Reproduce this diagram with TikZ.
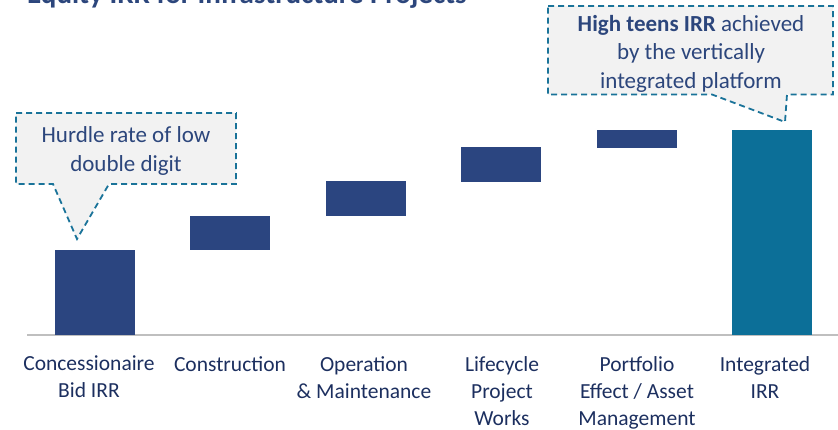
\documentclass[tikz,border=0pt]{standalone}
\usepackage{fontspec}
\setmainfont{Carlito}
\definecolor{navybar}{HTML}{2B4580}
\definecolor{tealbar}{HTML}{0C6F98}
\definecolor{txtblue}{HTML}{2C467C}
\definecolor{lblblue}{HTML}{1C2F5F}
\definecolor{calloutedge}{HTML}{1A7399}
\definecolor{calloutfill}{HTML}{F2F2F2}
\definecolor{axisgray}{HTML}{BFBFBF}
\tikzset{
  barbox/.style={draw=none, inner sep=0pt, minimum width=80pt, anchor=south west},
  lbl/.style={text=lblblue, align=center, anchor=north, inner sep=0pt,
    font=\fontsize{21.5}{27}\selectfont},
  callout/.style={fill=calloutfill, draw=calloutedge, line width=1.8pt,
    dash pattern=on 6pt off 4pt, line join=miter},
  callouttext/.style={text=txtblue, align=center, inner sep=0pt,
    font=\fontsize{23}{28.5}\selectfont},
}
\begin{document}
\begin{tikzpicture}[x=1pt,y=-1pt]
\useasboundingbox (0,0) rectangle (838,429);
\clip (0,0) rectangle (838,429);
% title (cut off at top)
\node[anchor=base west, inner sep=0pt, text=txtblue, font=\fontsize{29}{34}\selectfont\bfseries] (title) at (27,3.5) {Equity IRR for Infrastructure Projects};
% axis
\coordinate (axL) at (27,335);
\coordinate (axR) at (838,335);
\draw[axisgray, line width=1.6pt] (axL) -- (axR);
% bars
\node[barbox, fill=navybar, minimum height=85pt] (b1) at (55,335) {};
\node[barbox, fill=navybar, minimum height=34.5pt] (b2) at (190,250.5) {};
\node[barbox, fill=navybar, minimum height=35pt] (b3) at (326,216) {};
\node[barbox, fill=navybar, minimum height=35pt] (b4) at (461,182) {};
\node[barbox, fill=navybar, minimum height=18pt] (b5) at (597,148) {};
\node[barbox, fill=tealbar, minimum height=205pt] (b6) at (732,335) {};
% labels
\node[lbl] (l1) at (89,356) {Concessionaire\\Bid IRR};
\node[lbl] (l2) at (230,356) {Construction};
\node[lbl] (l3) at (364,356) {Operation\\\& Maintenance};
\node[lbl] (l4) at (502,356) {Lifecycle\\Project\\Works};
\node[lbl] (l5) at (637,356) {Portfolio\\Effect / Asset\\Management};
\node[lbl] (l6) at (765,356) {Integrated\\IRR};
% callout 1
\draw[callout] (16,113) -- (236,113) -- (236,184) -- (109,184) -- (77,239) -- (53,184) -- (16,184) -- cycle;
\node[callouttext] (c1) at (126,151) {Hurdle rate of low\\double digit};
% callout 2
\draw[callout] (548,6) -- (833,6) -- (833,94.5) -- (787,94.5) -- (785,122) -- (712,94.5) -- (548,94.5) -- cycle;
\node[callouttext] (c2) at (691,53.5) {\textbf{High teens IRR} achieved\\by the vertically\\integrated platform};
\end{tikzpicture}
\end{document}
